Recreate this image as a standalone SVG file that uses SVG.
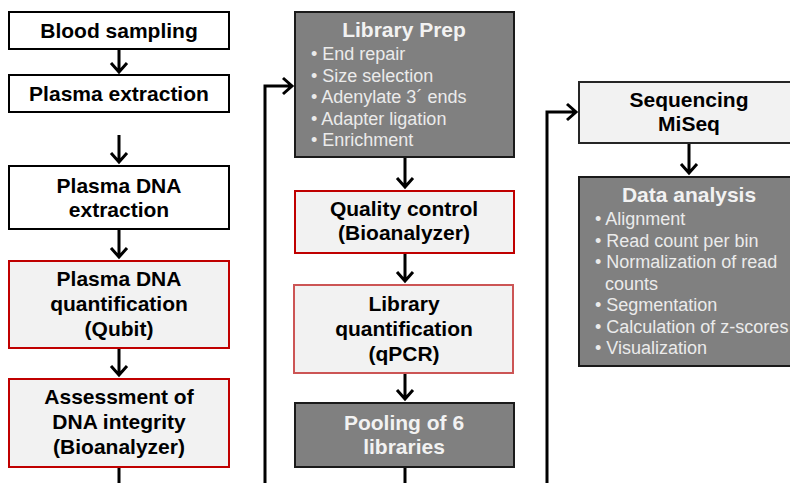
<svg xmlns="http://www.w3.org/2000/svg" width="790" height="483" viewBox="0 0 790 483">
<style>
.box{stroke-width:2}
.w{fill:#ffffff;stroke:#000000}
.l{fill:#f2f2f2;stroke:#262626}
.r{fill:#f2f2f2;stroke:#c00000}
.r2{fill:#f2f2f2;stroke:#cc5555}
.d{fill:#808080;stroke:#1a1a1a}
.t{font-family:"Liberation Sans",Arial,sans-serif;font-weight:bold;font-size:21px;fill:#000;text-anchor:middle}
.tw{font-family:"Liberation Sans",Arial,sans-serif;font-weight:bold;font-size:21px;fill:#f2f2f2;text-anchor:middle}
.b{font-family:"Liberation Sans",Arial,sans-serif;font-size:18px;fill:#ebebeb}
.c{fill:none;stroke:#000;stroke-width:3}
</style>
<rect width="790" height="483" fill="#ffffff"/>
<g id="connectors">
<path class="c" d="M119,49 V72 M111,63 L119,72 L127,63"/>
<path class="c" d="M119,135 V162 M111,153 L119,162 L127,153"/>
<path class="c" d="M119,229 V257 M111,248 L119,257 L127,248"/>
<path class="c" d="M119,348 V375 M111,366 L119,375 L127,366"/>
<path class="c" d="M119,467 V483"/>
<path class="c" d="M265,483 V86 H291 M283,78 L292,86 L283,94"/>
<path class="c" d="M405,157 V187 M397,178 L405,187 L413,178"/>
<path class="c" d="M405,253 V281 M397,272 L405,281 L413,272"/>
<path class="c" d="M405,373 V399 M397,390 L405,399 L413,390"/>
<path class="c" d="M405,467 V483"/>
<path class="c" d="M547,483 V112 H575 M567,104 L576,112 L567,120"/>
<path class="c" d="M689,143 V173 M681,164 L689,173 L697,164"/>
</g>
<g id="blood-sampling">
<rect class="box w" x="9" y="12" width="220" height="37"/>
<text class="t" x="119" y="38">Blood sampling</text>
</g>
<g id="plasma-extraction">
<rect class="box w" x="9" y="75" width="220" height="37"/>
<text class="t" x="119" y="101">Plasma extraction</text>
</g>
<g id="plasma-dna-extraction">
<rect class="box w" x="9" y="166" width="220" height="63"/>
<text class="t" x="119" y="193">Plasma DNA</text>
<text class="t" x="119" y="217">extraction</text>
</g>
<g id="plasma-dna-quantification">
<rect class="box r" x="9" y="261" width="220" height="87"/>
<text class="t" x="119" y="286">Plasma DNA</text>
<text class="t" x="119" y="311">quantification</text>
<text class="t" x="119" y="336">(Qubit)</text>
</g>
<g id="dna-integrity">
<rect class="box r" x="9" y="379" width="220" height="88"/>
<text class="t" x="119" y="404">Assessment of</text>
<text class="t" x="119" y="429">DNA integrity</text>
<text class="t" x="119" y="454">(Bioanalyzer)</text>
</g>
<g id="library-prep">
<rect class="box d" x="295" y="12" width="219" height="145"/>
<text class="tw" x="404" y="37">Library Prep</text>
<text class="b" x="311" y="60">• End repair</text>
<text class="b" x="311" y="82">• Size selection</text>
<text class="b" x="311" y="103">• Adenylate 3´ ends</text>
<text class="b" x="311" y="125">• Adapter ligation</text>
<text class="b" x="311" y="146">• Enrichment</text>
</g>
<g id="quality-control">
<rect class="box r" x="295" y="191" width="219" height="62"/>
<text class="t" x="404" y="216">Quality control</text>
<text class="t" x="404" y="240">(Bioanalyzer)</text>
</g>
<g id="library-quantification">
<rect class="box r2" x="294" y="285" width="219" height="88"/>
<text class="t" x="404" y="311">Library</text>
<text class="t" x="404" y="336">quantification</text>
<text class="t" x="404" y="361">(qPCR)</text>
</g>
<g id="pooling">
<rect class="box d" x="295" y="403" width="219" height="64"/>
<text class="tw" x="404" y="430">Pooling of 6</text>
<text class="tw" x="404" y="454">libraries</text>
</g>
<g id="sequencing">
<rect class="box l" x="579" y="82" width="220" height="61"/>
<text class="t" x="689" y="107">Sequencing</text>
<text class="t" x="689" y="131">MiSeq</text>
</g>
<g id="data-analysis">
<rect class="box d" x="579" y="177" width="220" height="189"/>
<text class="tw" x="689" y="202">Data analysis</text>
<text class="b" x="595" y="225">• Alignment</text>
<text class="b" x="595" y="247">• Read count per bin</text>
<text class="b" x="595" y="268">• Normalization of read</text>
<text class="b" x="605" y="290">counts</text>
<text class="b" x="595" y="311">• Segmentation</text>
<text class="b" x="595" y="333">• Calculation of z-scores</text>
<text class="b" x="595" y="354">• Visualization</text>
</g>
</svg>
